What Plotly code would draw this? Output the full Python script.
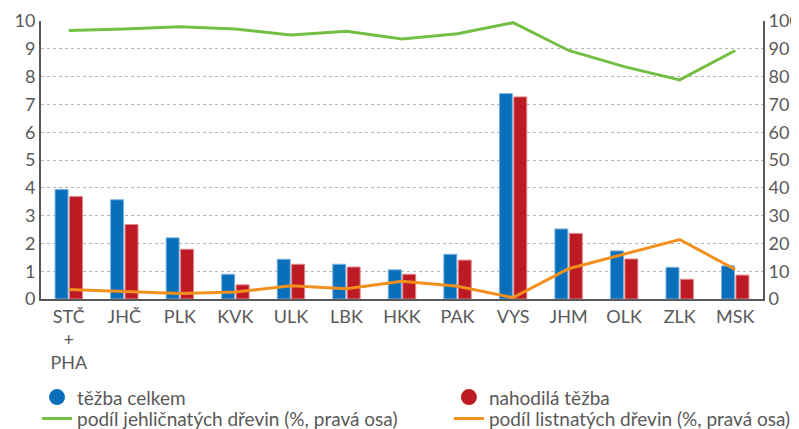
import plotly.graph_objects as go

categories = ["STČ<br>+<br>PHA", "JHČ", "PLK", "KVK", "ULK", "LBK", "HKK", "PAK", "VYS", "JHM", "OLK", "ZLK", "MSK"]
tezba_celkem = [3.94, 3.57, 2.20, 0.89, 1.43, 1.25, 1.05, 1.61, 7.39, 2.52, 1.73, 1.14, 1.19]
nahodila_tezba = [3.69, 2.68, 1.79, 0.51, 1.25, 1.15, 0.89, 1.40, 7.27, 2.36, 1.44, 0.71, 0.86]
podil_jehlicnatych = [96.6, 97.1, 97.9, 97.1, 95.0, 96.3, 93.5, 95.4, 99.4, 89.4, 83.6, 78.8, 89.4]
podil_listnatych = [3.4, 2.6, 2.0, 2.5, 4.8, 3.7, 6.4, 4.6, 0.5, 10.9, 16.2, 21.4, 10.6]

BLUE = "#0a6fba"
RED = "#be1a24"
GREEN = "#72bf44"
ORANGE = "#f3901d"
GRAY = "#595959"
FONT = "Lato, Open Sans, sans-serif"

fig = go.Figure()
fig.add_trace(go.Bar(x=categories, y=tezba_celkem, name="těžba celkem", marker=dict(color=BLUE, line=dict(color="#7fb3dd", width=1)), showlegend=False))
fig.add_trace(go.Bar(x=categories, y=nahodila_tezba, name="nahodilá těžba", marker=dict(color=RED, line=dict(color="#e08a90", width=1)), showlegend=False))
fig.add_trace(go.Scatter(x=categories, y=podil_jehlicnatych, yaxis="y2", mode="lines", line=dict(color=GREEN, width=3), showlegend=False))
fig.add_trace(go.Scatter(x=categories, y=podil_listnatych, yaxis="y2", mode="lines", line=dict(color=ORANGE, width=3), showlegend=False))

# legend entries (2x2 grid, one legend per entry)
fig.add_trace(go.Scatter(x=[None], y=[None], mode="markers", name="těžba celkem", legend="legend",
                         marker=dict(color=BLUE, size=16, symbol="circle")))
fig.add_trace(go.Scatter(x=[None], y=[None], mode="markers", name="nahodilá těžba", legend="legend2",
                         marker=dict(color=RED, size=16, symbol="circle")))
fig.add_trace(go.Scatter(x=[None], y=[None], mode="lines", name="podíl jehličnatých dřevin (%, pravá osa)", legend="legend3",
                         line=dict(color=GREEN, width=3)))
fig.add_trace(go.Scatter(x=[None], y=[None], mode="lines", name="podíl listnatých dřevin (%, pravá osa)", legend="legend4",
                         line=dict(color=ORANGE, width=3)))

legend_common = dict(orientation="v", xanchor="left", yanchor="top",
                     font=dict(family=FONT, size=19, color=GRAY), itemwidth=30,
                     bgcolor="rgba(0,0,0,0)", borderwidth=0)
row1_y = -0.285
row2_y = -0.362
col1_x = -0.0055
col2_x = 0.565

fig.update_layout(
    width=791, height=421,
    margin=dict(l=33, r=36, t=13, b=130, autoexpand=False),
    paper_bgcolor="white", plot_bgcolor="white",
    font=dict(family=FONT, size=18, color=GRAY),
    barmode="group", bargap=0.48, bargroupgap=0.1,
    xaxis=dict(showline=True, linecolor=GRAY, linewidth=2, ticks="", tickfont=dict(size=18, color=GRAY), showgrid=False),
    yaxis=dict(range=[0, 10], dtick=1, showline=True, linecolor=GRAY, linewidth=2, ticks="",
               showgrid=True, gridcolor="#b5b5b5", griddash="dot", gridwidth=1, zeroline=False,
               tickfont=dict(size=18, color=GRAY)),
    yaxis2=dict(range=[0, 100], dtick=10, overlaying="y", side="right", showline=True, linecolor=GRAY, linewidth=2,
                ticks="", showgrid=False, zeroline=False, tickfont=dict(size=18, color=GRAY)),
    legend=dict(x=col1_x, y=row1_y, **legend_common),
    legend2=dict(x=col2_x, y=row1_y, **legend_common),
    legend3=dict(x=col1_x, y=row2_y, **legend_common),
    legend4=dict(x=col2_x, y=row2_y, **legend_common),
)

fig.write_html("out.html")
